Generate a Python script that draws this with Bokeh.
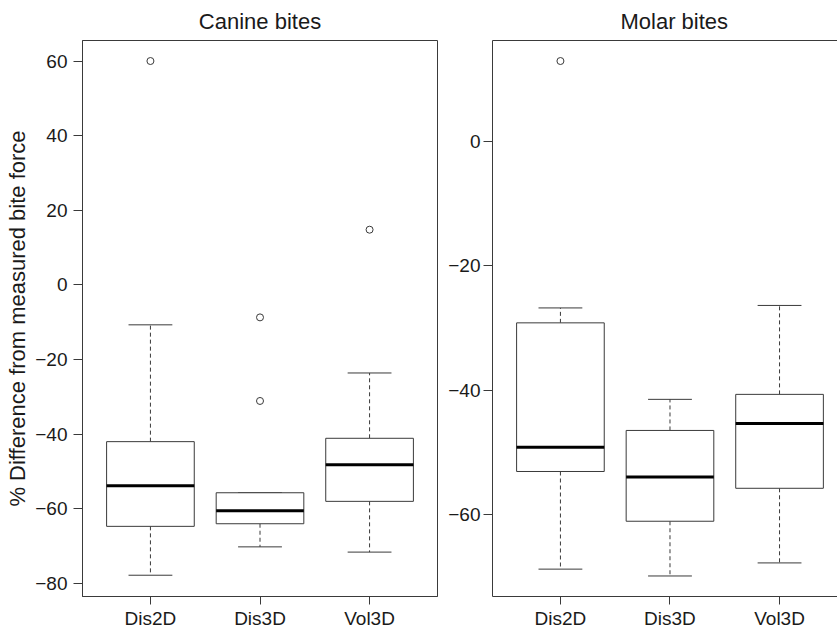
from bokeh.plotting import figure
from bokeh.layouts import row
from bokeh.models import Range1d, FixedTicker, LinearAxis
from bokeh.embed import file_html
from bokeh.resources import INLINE

groups = ["Dis2D", "Dis3D", "Vol3D"]
positions = [1, 2, 3]

canine_lower = [-77.8, -70.2, -71.6]
canine_q1 = [-64.7, -64.0, -58.0]
canine_median = [-53.8, -60.5, -48.2]
canine_q3 = [-42.0, -55.7, -41.1]
canine_upper = [-10.7, -55.7, -23.6]
canine_out_pos = [1, 2, 2, 3]
canine_out_val = [60.0, -8.7, -31.1, 14.8]
canine_yticks = [-80, -60, -40, -20, 0, 20, 40, 60]

molar_lower = [-68.8, -69.9, -67.8]
molar_q1 = [-53.1, -61.1, -55.8]
molar_median = [-49.2, -54.0, -45.4]
molar_q3 = [-29.2, -46.5, -40.7]
molar_upper = [-26.8, -41.5, -26.4]
molar_out_pos = [1]
molar_out_val = [12.9]
molar_yticks = [-60, -40, -20, 0]

FONT = "Liberation Sans"
LINE = "#3a3a3a"
TXT = "#1a1a1a"
H = 631


def fmt(v):
    return ("\u2212" + str(abs(v))) if v < 0 else str(v)


def style_axis(ax, tick_out, standoff):
    ax.axis_line_color = LINE
    ax.major_tick_line_color = LINE
    ax.minor_tick_line_color = None
    ax.major_tick_in = 0
    ax.major_tick_out = tick_out
    ax.major_label_standoff = standoff
    ax.major_label_text_font = FONT
    ax.major_label_text_font_size = "19px"
    ax.major_label_text_color = TXT


def build(title, yr, xr_end, lower, q1, med, q3, upper, opos, oval, yticks,
          width, bl, br, ylabel, full_outline, ystandoff):
    p = figure(width=width, height=H, output_backend="svg", toolbar_location=None,
               x_range=Range1d(0.38, xr_end), y_range=Range1d(*yr),
               min_border_left=bl, min_border_right=br, min_border_top=40,
               min_border_bottom=35, title=title)
    p.grid.visible = False
    p.background_fill_color = "white"
    p.border_fill_color = "white"
    p.title.text_font = FONT
    p.title.text_font_size = "22px"
    p.title.text_font_style = "normal"
    p.title.text_color = TXT
    p.title.standoff = 13

    xax = p.below[0]
    yax = p.left[0]
    xax.ticker = FixedTicker(ticks=positions)
    xax.major_label_overrides = {pos: g for pos, g in zip(positions, groups)}
    style_axis(xax, 8, 3)
    yax.ticker = FixedTicker(ticks=yticks)
    yax.major_label_overrides = {t: fmt(t) for t in yticks}
    style_axis(yax, 9, ystandoff)
    if ylabel:
        yax.axis_label = ylabel
        yax.axis_label_text_font = FONT
        yax.axis_label_text_font_size = "22px"
        yax.axis_label_text_font_style = "normal"
        yax.axis_label_text_color = TXT
        yax.axis_label_standoff = 2

    if full_outline:
        p.outline_line_color = LINE
        p.title.align = "center"
    else:
        p.outline_line_color = None
        top = LinearAxis(ticker=FixedTicker(ticks=[]), major_tick_line_color=None,
                         minor_tick_line_color=None, major_tick_in=0, major_tick_out=0,
                         minor_tick_in=0, minor_tick_out=0,
                         major_label_text_font_size="0px", major_label_standoff=0,
                         axis_line_color=LINE)
        p.add_layout(top, "above")

    hw = 0.4
    cw = 0.2
    x0b = [x - hw for x in positions]
    x1b = [x + hw for x in positions]
    x0c = [x - cw for x in positions]
    x1c = [x + cw for x in positions]
    p.segment(positions, q3, positions, upper, line_color=LINE, line_width=1, line_dash="4 3")
    p.segment(positions, q1, positions, lower, line_color=LINE, line_width=1, line_dash="4 3")
    p.segment(x0c, upper, x1c, upper, line_color=LINE, line_width=1)
    p.segment(x0c, lower, x1c, lower, line_color=LINE, line_width=1)
    p.quad(left=x0b, right=x1b, bottom=q1, top=q3, fill_color="white",
           line_color=LINE, line_width=1)
    p.segment(x0b, med, x1b, med, line_color="black", line_width=3)
    p.scatter(opos, oval, size=7, marker="circle", fill_color=None,
              line_color=LINE, line_width=1)
    return p


left = build("Canine bites", (-83.5, 65.5), 3.62, canine_lower, canine_q1, canine_median,
             canine_q3, canine_upper, canine_out_pos, canine_out_val, canine_yticks,
             445, 82, 8, "% Difference from measured bite force", True, 6)
right = build("Molar bites", (-73.2, 16.2), 3.529, molar_lower, molar_q1, molar_median,
              molar_q3, molar_upper, molar_out_pos, molar_out_val, molar_yticks,
              392, 47, 0, None, False, 3)
right.title.align = "left"
right.title.offset = 128

layout = row(left, right, spacing=0)
open("out.html", "w").write(file_html(layout, INLINE))
